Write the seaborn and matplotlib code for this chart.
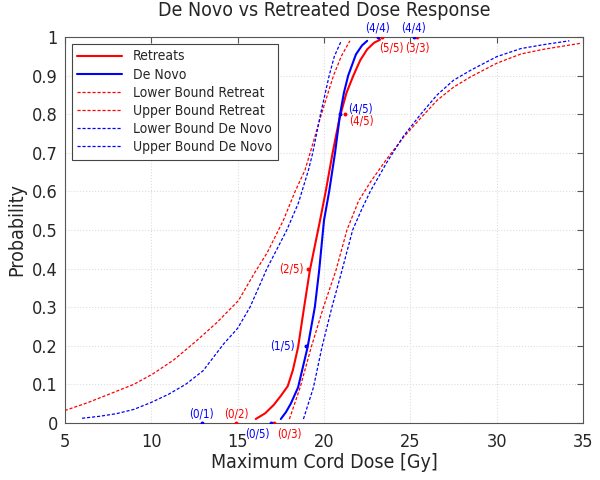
import matplotlib
matplotlib.use('Agg')
import matplotlib.pyplot as plt
import pandas as pd
import seaborn as sns

# ---- data ----
# solid fits
re_x = [16.05, 16.6, 17.1, 17.5, 17.9, 18.2, 18.5, 18.85, 19.18, 19.75, 20.1, 20.5, 20.9, 21.3, 21.7, 22.1, 22.5, 22.9, 23.25]
re_y = [0.01, 0.025, 0.047, 0.07, 0.095, 0.137, 0.196, 0.30, 0.395, 0.52, 0.60, 0.70, 0.79, 0.855, 0.90, 0.94, 0.968, 0.985, 0.993]
dn_x = [17.5, 17.8, 18.08, 18.5, 19.05, 19.47, 19.72, 20.0, 20.3, 20.64, 20.93, 21.15, 21.4, 21.85, 22.2, 22.5]
dn_y = [0.01, 0.028, 0.05, 0.092, 0.196, 0.30, 0.395, 0.525, 0.60, 0.70, 0.80, 0.855, 0.90, 0.955, 0.978, 0.99]

# confidence bounds, retreat
lb_re_x = [18.0, 18.62, 19.26, 19.97, 20.69, 21.33, 22.0, 22.7, 23.65, 24.6, 25.6, 26.55, 27.5, 28.5, 30.0, 31.4, 32.7, 34.9]
lb_re_y = [0.01, 0.092, 0.196, 0.30, 0.395, 0.50, 0.575, 0.625, 0.685, 0.74, 0.79, 0.836, 0.87, 0.897, 0.932, 0.956, 0.968, 0.984]
ub_re_x = [5.0, 6.3, 7.6, 9.0, 10.1, 11.3, 12.63, 13.8, 15.05, 16.0, 16.7, 17.65, 18.33, 18.9, 19.2, 19.85, 20.55, 21.0, 21.5]
ub_re_y = [0.032, 0.052, 0.075, 0.10, 0.127, 0.163, 0.213, 0.26, 0.317, 0.39, 0.44, 0.525, 0.60, 0.655, 0.70, 0.80, 0.90, 0.95, 0.99]

# confidence bounds, de novo
lb_dn_x = [18.81, 19.39, 19.88, 20.46, 21.04, 21.66, 22.2, 22.68, 23.65, 24.6, 25.6, 26.55, 27.5, 28.5, 30.0, 31.4, 32.7, 34.2]
lb_dn_y = [0.01, 0.092, 0.196, 0.30, 0.395, 0.50, 0.555, 0.60, 0.676, 0.743, 0.80, 0.85, 0.888, 0.914, 0.949, 0.97, 0.98, 0.99]
ub_dn_x = [6.0, 7.0, 8.0, 9.0, 10.0, 11.0, 12.0, 13.0, 14.2, 15.0, 15.72, 16.7, 17.85, 18.52, 19.1, 19.35, 19.8, 20.3, 20.6, 21.0]
ub_dn_y = [0.012, 0.017, 0.024, 0.035, 0.053, 0.074, 0.10, 0.135, 0.205, 0.245, 0.30, 0.40, 0.50, 0.57, 0.655, 0.70, 0.80, 0.90, 0.95, 0.99]

# observed points (complications / patients)
re_pt_x = [14.91, 17.12, 19.05, 21.19, 23.36, 25.39]
re_pt_y = [0.0, 0.0, 0.4, 0.8, 1.0, 1.0]
re_pt_lab = ['(0/2)', '(0/3)', '(2/5)', '(4/5)', '(5/5)', '(3/3)']
dn_pt_x = [12.92, 16.92, 18.95, 20.94, 23.1, 25.19]
dn_pt_y = [0.0, 0.0, 0.2, 0.8, 1.0, 1.0]
dn_pt_lab = ['(0/1)', '(0/5)', '(1/5)', '(4/5)', '(4/4)', '(4/4)']

# label placement (offset in points, alignment)
re_lab_pos = [((0, 2), 'center', 'bottom'), ((2, -3), 'left', 'top'), ((-3, 0), 'right', 'center'),
              ((3, -5), 'left', 'center'), ((-2, -3), 'left', 'top'), ((0, -3), 'center', 'top')]
dn_lab_pos = [((0, 2), 'center', 'bottom'), ((-1, -3), 'right', 'top'), ((-8, 0), 'right', 'center'),
              ((6, 4), 'left', 'center'), ((0, 2), 'center', 'bottom'), ((0, 2), 'center', 'bottom')]

sns.set_style('white')
plt.rcParams['font.family'] = ['DejaVu Sans']
plt.rcParams['font.stretch'] = 'condensed'

RED = '#ff0000'
BLUE = '#0000ff'

fig = plt.figure(figsize=(6, 4.8), dpi=100)
ax = fig.add_axes([0.108, 0.119, 0.864, 0.804])

curves = [
    (re_x, re_y, 'Retreats', RED, '-', 1.5),
    (dn_x, dn_y, 'De Novo', BLUE, '-', 1.5),
    (lb_re_x, lb_re_y, 'Lower Bound Retreat', RED, '--', 0.9),
    (ub_re_x, ub_re_y, 'Upper Bound Retreat', RED, '--', 0.9),
    (lb_dn_x, lb_dn_y, 'Lower Bound De Novo', BLUE, '--', 0.9),
    (ub_dn_x, ub_dn_y, 'Upper Bound De Novo', BLUE, '--', 0.9),
]
for cx, cy, name, col, ls, lw in curves:
    df = pd.DataFrame({'dose': cx, 'prob': cy})
    sns.lineplot(data=df, x='dose', y='prob', ax=ax, color=col, linestyle=ls,
                 linewidth=lw, label=name, sort=False, estimator=None)
for line in ax.get_lines()[2:]:
    line.set_dashes([2.5, 1.5])

sns.scatterplot(x=re_pt_x, y=re_pt_y, ax=ax, color=RED, s=8, linewidth=0, legend=False, zorder=5)
sns.scatterplot(x=dn_pt_x, y=dn_pt_y, ax=ax, color=BLUE, s=8, linewidth=0, legend=False, zorder=5)

for xs, ys, labs, pos, col in [(re_pt_x, re_pt_y, re_pt_lab, re_lab_pos, RED),
                               (dn_pt_x, dn_pt_y, dn_pt_lab, dn_lab_pos, BLUE)]:
    for px, py, lab, (off, ha, va) in zip(xs, ys, labs, pos):
        ax.annotate(lab, (px, py), xytext=off, textcoords='offset points',
                    ha=ha, va=va, color=col, fontsize=8.3, annotation_clip=False)

ax.set_xlim(5, 35)
ax.set_ylim(0, 1)
ax.set_xticks(range(5, 36, 5))
ax.set_yticks([i / 10 for i in range(11)])
ax.set_yticklabels(['0'] + ['0.%d' % i for i in range(1, 10)] + ['1'])
ax.grid(True, color='#dddddd', linestyle=':', linewidth=0.8)
ax.tick_params(direction='in', length=4, width=0.8, color='#555555', labelsize=13,
               top=True, right=True)
ax.tick_params(axis='x', pad=7)
ax.tick_params(axis='y', pad=5)
for sp in ax.spines.values():
    sp.set_visible(True)
    sp.set_color('#555555')
    sp.set_linewidth(0.8)

ax.set_xlabel('Maximum Cord Dose [Gy]', fontsize=14, labelpad=2)
ax.set_ylabel('Probability', fontsize=14, labelpad=4)
ax.set_title('De Novo vs Retreated Dose Response', fontsize=14, pad=15)

leg = ax.legend(loc='upper left', fontsize=10, frameon=True, fancybox=False,
                edgecolor='#444444', framealpha=1, handlelength=3.2,
                borderaxespad=0.5, labelspacing=0.3, borderpad=0.4)
leg.get_frame().set_linewidth(0.8)

fig.savefig('out.png', dpi=100)
